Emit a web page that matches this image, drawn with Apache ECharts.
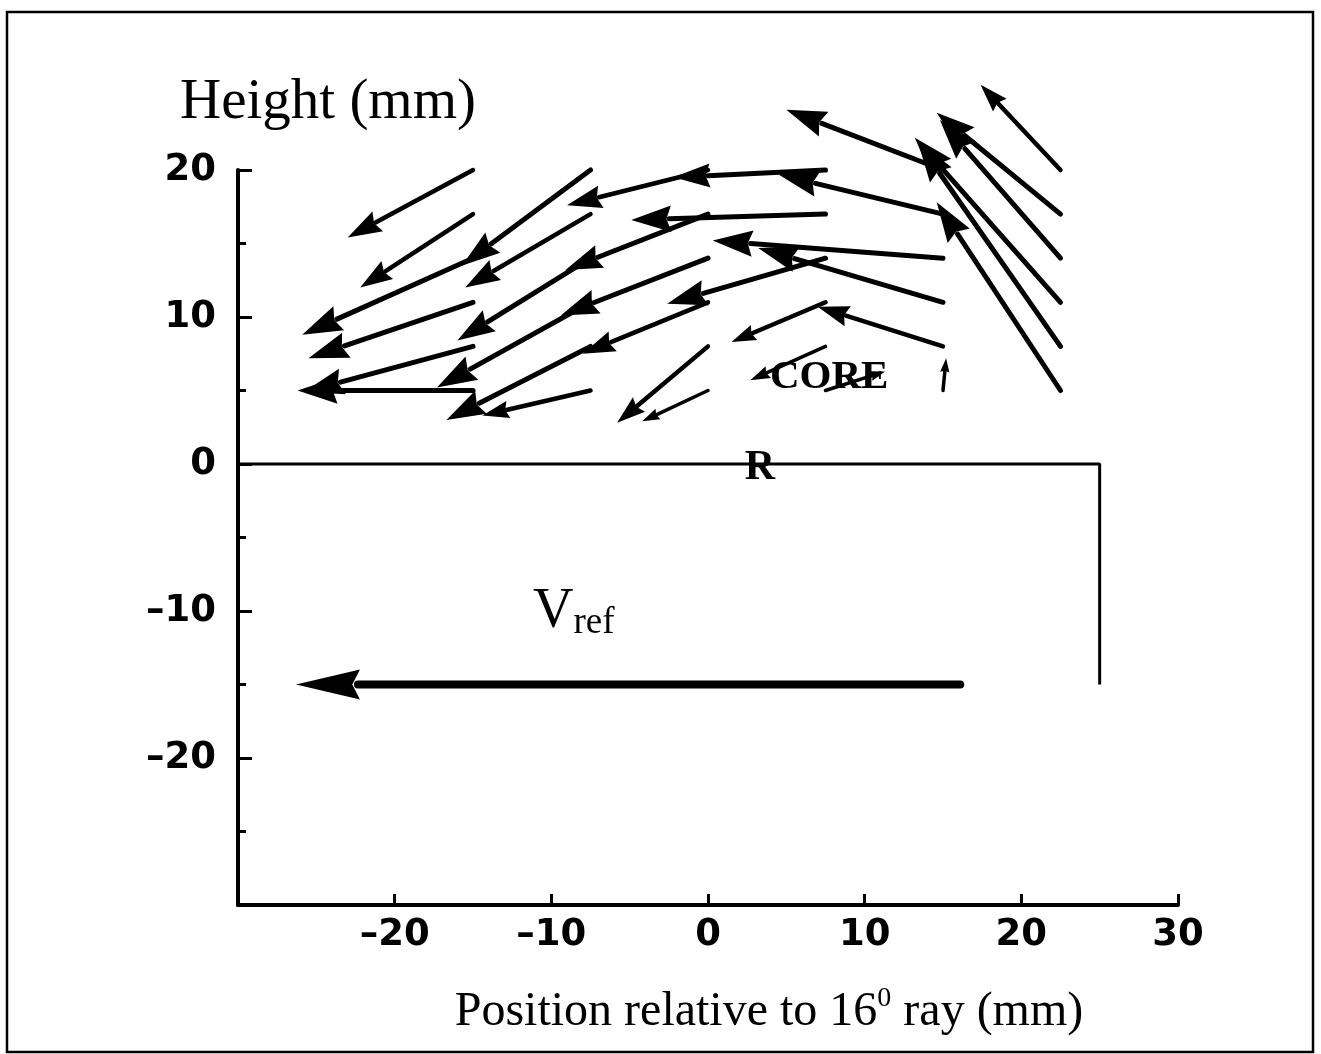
<!DOCTYPE html>
<html>
<head>
<meta charset="utf-8">
<script src="https://cdn.jsdelivr.net/npm/echarts@6/dist/echarts.min.js"></script>
<style>
html,body{margin:0;padding:0;background:#fff;}
#c{width:1321px;height:1054px;}
</style>
</head>
<body>
<div id="c"></div>
<script>
// Grid of measurement points (mm)
const tailX = [-15,-15,-15,-15,-15,-15, -7.5,-7.5,-7.5,-7.5,-7.5,-7.5, 0,0,0,0,0,0, 7.5,7.5,7.5,7.5,7.5,7.5, 15,15,15,15,15,15, 22.5,22.5,22.5,22.5,22.5,22.5];
const tailY = [20,17,14,11,8,5, 20,17,14,11,8,5, 20,17,14,11,8,5, 20,17,14,11,8,5, 20,17,14,11,8,5, 20,17,14,11,8,5];
// Arrow tips (mm)
const headX = [-23.0,-22.2,-25.9,-25.5,-25.8,-26.2, -15.7,-15.5,-16.0,-17.3,-16.7,-14.4, -9.0,-9.1,-9.4,-8.0,-5.8,-4.2, -2.2,-4.9,-2.6,1.5,2.7,11.3, 5.0,4.5,0.3,3.2,7.0,15.2, 17.4,14.6,14.8,13.2,13.4,14.6];
const headY = [15.4,12.0,8.8,7.2,4.9,5.0, 13.5,12.0,8.4,5.2,3.0,3.3, 17.6,13.2,10.1,7.5,2.8,2.9, 19.5,16.6,10.9,8.3,5.7,6.3, 24.1,19.7,15.2,14.7,10.7,7.2, 25.8,23.9,23.4,22.2,21.9,17.8];
// Reference velocity arrow
const refArrow = [[16.1, -15, -26.3, -15]];
// Boundary line R
const boundary = [[-30, 0], [25, 0], [25, -15]];
const xTicks = [-30, -20, -10, 0, 10, 20, 30];
const yTicks = [-30, -20, -10, 0, 10, 20];

const arrowData = tailX.map((x, i) => [x, tailY[i], headX[i], headY[i]]);

function fmt(v) {
  if (v === -30) return '';
  return String(v).replace('-', '\u2013');
}

function arrowItem(opts) {
  return function (params, api) {
    const p0 = api.coord([api.value(0), api.value(1)]);
    const p1 = api.coord([api.value(2), api.value(3)]);
    const dx = p1[0] - p0[0], dy = p1[1] - p0[1];
    const len = Math.hypot(dx, dy);
    const ux = dx / len, uy = dy / len;
    const nx = -uy, ny = ux;
    let hl = opts.hl ? opts.hl : Math.max(14, Math.min(40, len * 0.24));
    if (hl > len * 0.9) hl = len * 0.4;
    const hw = opts.hw ? opts.hw : hl * 0.33;
    const bx = p1[0] - ux * hl, by = p1[1] - uy * hl;
    const lw = opts.lw ? opts.lw : (len > 150 ? 5 : (len > 90 ? 4.5 : 3.5));
    return {
      type: 'group',
      children: [
        {
          type: 'line',
          shape: { x1: p0[0], y1: p0[1], x2: bx + ux * 2, y2: by + uy * 2 },
          style: { stroke: '#000', lineWidth: lw, lineCap: 'round' }
        },
        {
          type: 'polygon',
          shape: {
            points: [
              [p1[0], p1[1]],
              [bx + nx * hw, by + ny * hw],
              [bx + ux * hl * 0.12, by + uy * hl * 0.12],
              [bx - nx * hw, by - ny * hw]
            ]
          },
          style: { fill: '#000' }
        }
      ]
    };
  };
}

const chart = echarts.init(document.getElementById('c'), null, { renderer: 'canvas' });
const labelFont = { fontFamily: 'DejaVu Sans', fontSize: 37, fontWeight: 'bold', color: '#000' };

chart.setOption({
  animation: false,
  backgroundColor: '#fff',
  grid: { left: 238, right: 143, top: 170, bottom: 149, containLabel: false },
  xAxis: {
    type: 'value', min: -30, max: 30, interval: 10,
    axisLine: { show: true, onZero: false, lineStyle: { color: '#000', width: 4 } },
    axisTick: { show: true, inside: true, length: 11, lineStyle: { color: '#000', width: 3 } },
    splitLine: { show: false },
    axisLabel: Object.assign({ margin: 12, formatter: fmt }, labelFont)
  },
  yAxis: {
    type: 'value', min: -30, max: 20, interval: 10,
    axisLine: { show: true, onZero: false, lineStyle: { color: '#000', width: 4 } },
    axisTick: { show: true, inside: true, length: 14, lineStyle: { color: '#000', width: 3 } },
    minorTick: { show: true, splitNumber: 2, length: 8, lineStyle: { color: '#000', width: 3 } },
    splitLine: { show: false },
    axisLabel: Object.assign({ margin: 22, formatter: fmt }, labelFont)
  },
  series: [
    {
      type: 'line',
      data: boundary,
      symbol: 'none',
      lineStyle: { color: '#000', width: 3 },
      silent: true
    },
    {
      type: 'custom',
      data: arrowData,
      renderItem: arrowItem({}),
      clip: false,
      silent: true
    },
    {
      type: 'custom',
      data: refArrow,
      renderItem: arrowItem({ hl: 64, hw: 15, lw: 8 }),
      clip: false,
      silent: true
    }
  ],
  graphic: [
    {
      type: 'rect', shape: { x: 7, y: 12, width: 1306, height: 1040 },
      style: { fill: 'none', stroke: '#000', lineWidth: 2.5 }, silent: true
    },
    {
      type: 'text', x: 180, y: 103,
      style: { text: 'Height (mm)', font: '57px "Liberation Serif"', fill: '#000', textAlign: 'left', textVerticalAlign: 'middle' }
    },
    {
      type: 'text', x: 769, y: 1012,
      style: {
        text: '{a|Position relative to 16}{s|0}{a| ray (mm)}',
        textAlign: 'center', textVerticalAlign: 'middle',
        rich: {
          a: { fontFamily: 'Liberation Serif', fontSize: 48, color: '#000' },
          s: { fontFamily: 'Liberation Serif', fontSize: 28, color: '#000', verticalAlign: 'top', padding: [0, 0, 26, 0] }
        }
      }
    },
    {
      type: 'text', x: 770, y: 377,
      style: { text: 'CORE', font: 'bold 41px "Liberation Serif"', fill: '#000', textAlign: 'left', textVerticalAlign: 'middle' }
    },
    {
      type: 'text', x: 760, y: 468,
      style: { text: 'R', font: 'bold 42px "Liberation Serif"', fill: '#000', textAlign: 'center', textVerticalAlign: 'middle' }
    },
    {
      type: 'text', x: 533, y: 612,
      style: {
        text: '{v|V}{r|ref}',
        textAlign: 'left', textVerticalAlign: 'middle',
        rich: {
          v: { fontFamily: 'Liberation Serif', fontSize: 56, color: '#000' },
          r: { fontFamily: 'Liberation Serif', fontSize: 37, color: '#000', padding: [22, 0, 0, 0] }
        }
      }
    }
  ]
});
</script>
</body>
</html>
